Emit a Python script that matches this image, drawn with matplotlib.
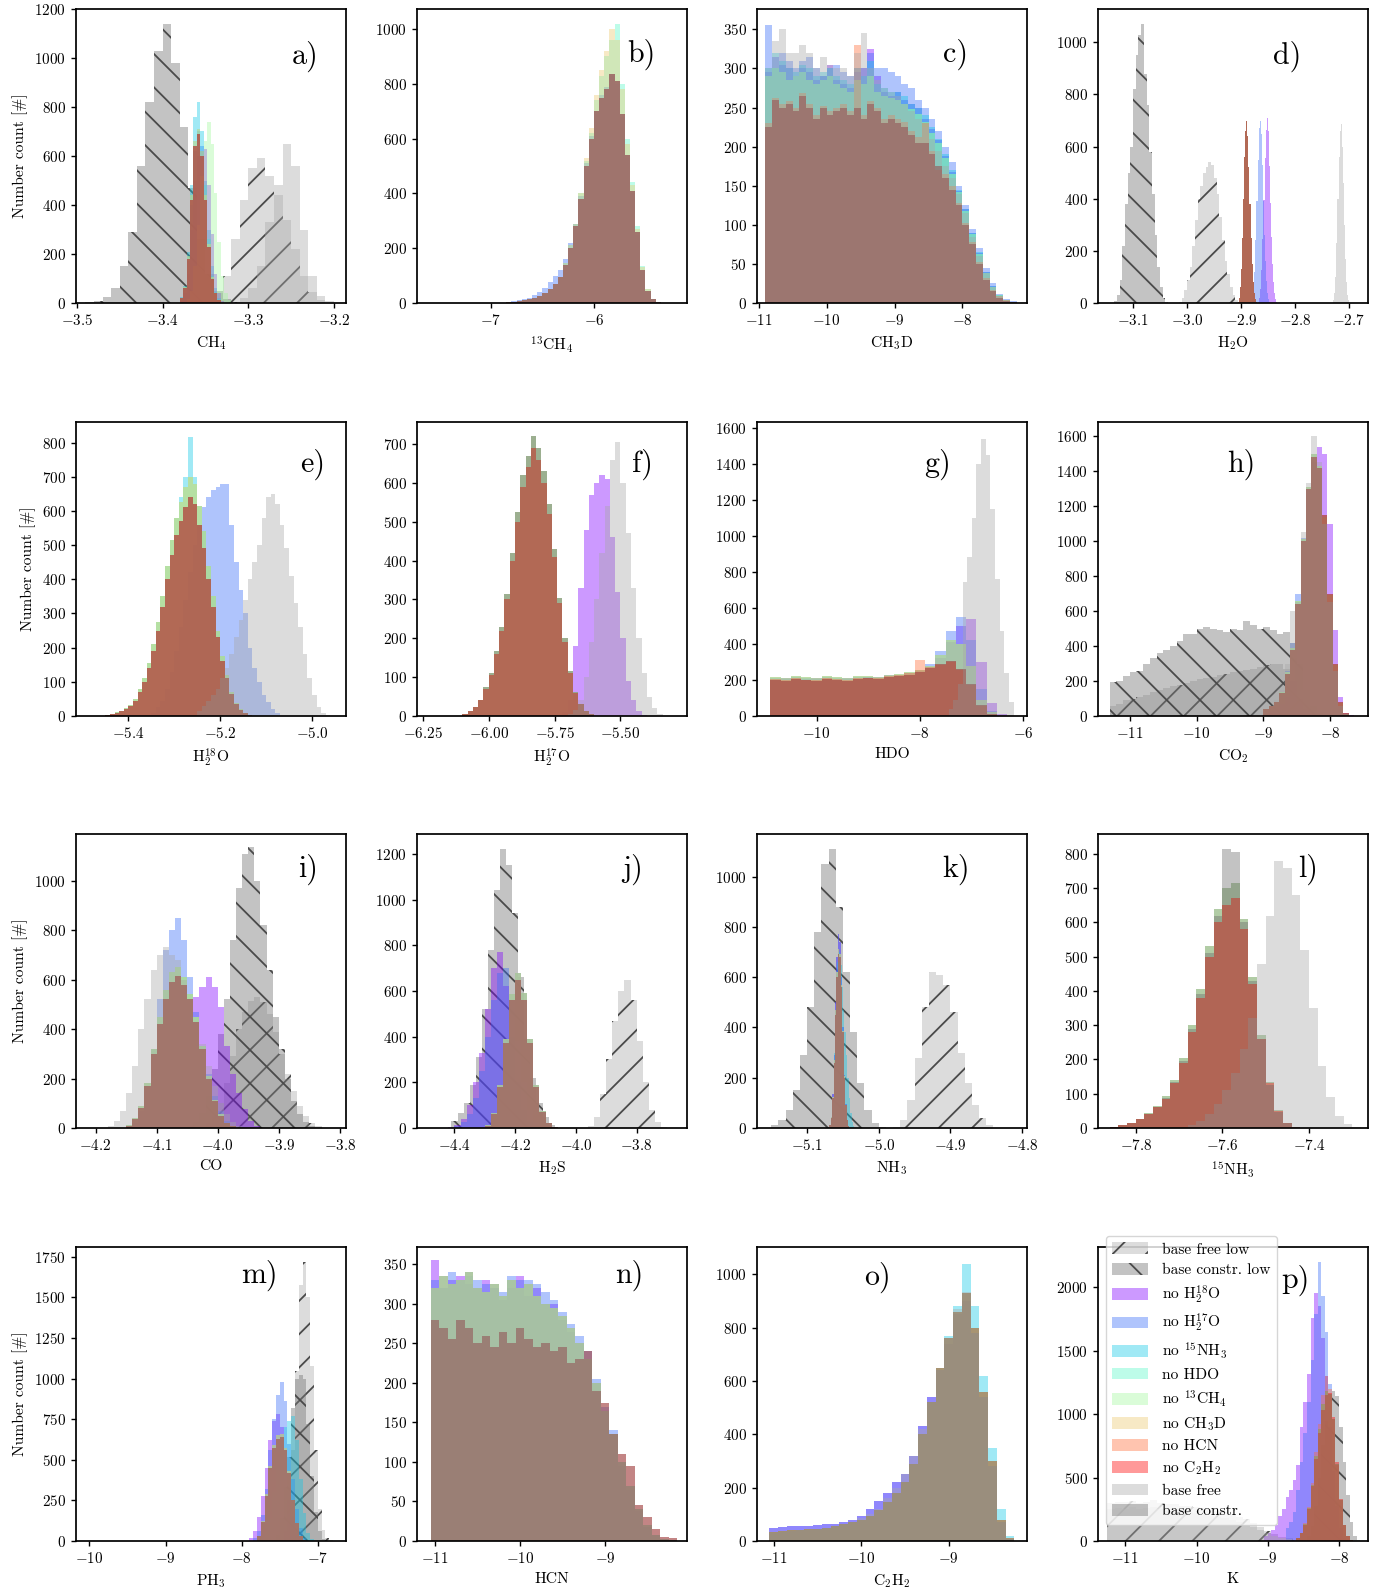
import numpy as np
import matplotlib
matplotlib.use("Agg")
import matplotlib.pyplot as plt
from matplotlib.patches import Patch

plt.rcParams.update({
    'font.family': 'serif',
    'font.serif': ['cmr10', 'DejaVu Serif'],
    'mathtext.fontset': 'cm',
    'axes.formatter.use_mathtext': True,
    'axes.unicode_minus': True,
    'hatch.linewidth': 1.3,
    'hatch.color': '#4a4a4a',
})

# ---------------- series labels / styles ----------------
LABELS = ['base free low', 'base constr. low', 'no H$_2^{18}$O', 'no H$_2^{17}$O',
          'no $^{15}$NH$_3$', 'no HDO', 'no $^{13}$CH$_4$', 'no CH$_3$D', 'no HCN',
          'no C$_2$H$_2$', 'base free', 'base constr.']
RAINBOW = plt.cm.rainbow(np.linspace(0, 1, 8))
COLORS = ['#a8a8a8', '#7a7a7a'] + [RAINBOW[i] for i in range(8)] + ['#a8a8a8', 'dimgray']
ALPHAS = [0.4, 0.45] + [0.4] * 10
HATCHES = ['/', '\\'] + [None] * 10
FL, CL, H18, H17, N15, HDO, C13, CH3D, HCN, C2H2, FREE, CONSTR = range(12)

# ---------------- data: (first bin edge, bin width, counts) ----------------
# a) CH4
A_FREE_LOW = (-3.35, 0.01, [10, 40, 110, 260, 420, 550, 590, 520, 440, 340, 220, 110, 45, 12])
A_CONSTR_LOW = (-3.49, 0.01, [5, 10, 25, 60, 150, 290, 560, 820, 1030, 1140, 980, 720, 470, 260, 120, 50, 15, 5])
A_FREE = (-3.31, 0.01, [20, 60, 150, 330, 480, 650, 560, 300, 110, 30, 8])
A_RED = (-3.380, 0.004, [20, 60, 180, 420, 640, 690, 600, 420, 230, 100, 40, 12])
A_CYAN = (-3.380, 0.004, [25, 70, 210, 480, 760, 820, 700, 480, 260, 110, 45, 15])
A_BLUE = (-3.380, 0.004, [20, 60, 170, 400, 620, 700, 640, 500, 300, 150, 60, 20])
A_PURPLE = (-3.380, 0.004, [10, 40, 120, 300, 500, 600, 620, 630, 480, 280, 120, 40, 10])
A_GREEN = (-3.372, 0.004, [15, 50, 150, 320, 520, 660, 740, 650, 450, 250, 110, 40, 12])
A_MID = (-3.380, 0.004, [20, 65, 190, 440, 660, 710, 620, 440, 240, 105, 40, 12])

# b) 13CH4
B_LOW = (-6.85, 0.05, [3, 5, 8, 10, 15, 20, 25, 35, 50, 70, 95, 140, 200, 280, 380, 500, 600, 700, 750, 780,
                       835, 810, 690, 540, 410, 260, 120, 45, 15, 4])
B_HIGH = (-6.85, 0.05, [3, 5, 8, 10, 15, 20, 25, 35, 50, 70, 95, 145, 210, 290, 400, 530, 640, 760, 850, 920,
                        1000, 960, 780, 580, 430, 270, 130, 50, 16, 4])
B_HDO = (-6.85, 0.05, [3, 5, 8, 10, 15, 20, 25, 35, 50, 70, 95, 145, 210, 290, 400, 520, 620, 740, 830, 900,
                       960, 1020, 800, 600, 440, 280, 135, 52, 16, 4])
B_BLUE = (-6.85, 0.05, [4, 6, 10, 14, 20, 30, 40, 55, 75, 100, 120, 160, 220, 290, 390, 510, 610, 700, 760, 790,
                        830, 800, 680, 530, 400, 250, 115, 42, 14, 4])

# c) CH3D
C_HI = (-10.9, 0.1, [300, 320, 310, 300, 295, 305, 300, 290, 295, 300, 290, 285, 280, 300, 290, 310, 280, 275, 270,
                     270, 265, 255, 250, 240, 225, 210, 190, 170, 145, 120, 90, 65, 40, 22, 10, 4, 1])
C_MID = (-10.9, 0.1, [290, 300, 295, 285, 290, 295, 285, 280, 285, 290, 280, 275, 270, 285, 280, 290, 270, 265, 262,
                      260, 255, 248, 242, 232, 218, 204, 185, 165, 142, 118, 88, 63, 39, 21, 10, 4, 1])
C_PURPLE = (-10.9, 0.1, [295, 315, 305, 300, 290, 300, 295, 285, 290, 305, 285, 280, 275, 295, 300, 325, 290, 270, 265,
                         270, 260, 255, 250, 235, 222, 208, 188, 168, 143, 120, 90, 64, 40, 22, 10, 4, 1])
C_LO = (-10.9, 0.1, [225, 260, 250, 255, 245, 265, 250, 235, 250, 240, 245, 250, 240, 250, 235, 255, 245, 230, 235,
                     230, 225, 215, 205, 205, 190, 175, 160, 145, 125, 100, 75, 50, 30, 15, 7, 3, 1])
C_CORAL = (-10.9, 0.1, [230, 262, 255, 258, 250, 268, 255, 240, 252, 245, 250, 255, 245, 330, 240, 258, 250, 235, 240,
                        235, 232, 220, 212, 230, 195, 170, 165, 150, 128, 102, 78, 52, 32, 17, 9, 4, 1])
C_BLUE = (-10.9, 0.1, [355, 300, 320, 310, 300, 310, 315, 300, 290, 300, 305, 295, 290, 300, 300, 320, 300, 300, 295,
                       290, 280, 275, 260, 250, 235, 220, 200, 180, 150, 125, 95, 70, 45, 25, 12, 5, 2])
C_GRAY = (-10.9, 0.1, [300, 335, 350, 320, 320, 330, 320, 300, 315, 305, 300, 300, 290, 320, 345, 300, 285, 275, 270,
                       265, 255, 245, 235, 225, 210, 195, 175, 160, 140, 115, 85, 60, 38, 20, 9, 3, 1])

# d) H2O
D_CONSTR_LOW = (-3.135, 0.005, [8, 30, 90, 220, 380, 500, 600, 820, 950, 1030, 1070, 880, 760, 580, 420, 260, 140, 60, 20, 5])
D_FREE_LOW = (-3.015, 0.005, [5, 20, 50, 90, 140, 220, 320, 400, 450, 500, 520, 540, 530, 480, 420, 330, 240, 160,
                              110, 60, 30, 10, 3])
D_RED = (-2.906, 0.002, [5, 20, 60, 130, 250, 400, 560, 660, 700, 640, 520, 380, 250, 150, 80, 40, 15, 5])
D_BLUE = (-2.881, 0.002, [5, 15, 50, 120, 240, 390, 550, 670, 700, 650, 530, 390, 260, 160, 85, 40, 15, 5])
D_PURPLE = (-2.868, 0.002, [5, 18, 55, 125, 245, 395, 555, 665, 710, 660, 525, 385, 255, 150, 80, 40, 15, 5])
D_FREE = (-2.7286, 0.002, [10, 40, 100, 230, 400, 560, 660, 685, 600, 460, 300, 170, 80, 30, 10])

# e) H2 18O
E_RED = (-5.45, 0.01, [3, 6, 10, 15, 20, 30, 45, 70, 100, 140, 190, 250, 320, 400, 470, 530, 570, 610, 640, 620, 560,
                       490, 400, 320, 230, 160, 110, 65, 35, 18, 8, 3])
E_HI = (-5.45, 0.01, [3, 6, 11, 16, 22, 33, 50, 78, 110, 155, 210, 275, 350, 440, 515, 580, 625, 670, 700, 680, 615,
                      540, 440, 350, 250, 175, 120, 70, 38, 20, 9, 3])
E_CYAN = (-5.45, 0.01, [3, 6, 11, 16, 22, 33, 50, 78, 110, 155, 210, 275, 350, 440, 515, 580, 640, 700, 815, 700, 615,
                        540, 440, 350, 250, 175, 120, 70, 38, 20, 9, 3])
E_BLUE = (-5.35, 0.01, [10, 25, 45, 80, 130, 190, 260, 340, 420, 500, 560, 610, 640, 660, 670, 680, 680, 560, 450, 370,
                        300, 200, 140, 100, 60, 40, 20, 8])
E_FREE = (-5.25, 0.01, [15, 30, 45, 60, 80, 110, 140, 180, 230, 280, 340, 400, 450, 500, 580, 640, 650, 620, 560, 490,
                        410, 330, 260, 180, 110, 60, 25, 10, 3])

# f) H2 17O
F_RED = (-6.10, 0.02, [5, 12, 22, 40, 70, 105, 160, 220, 300, 400, 500, 590, 640, 690, 660, 600, 520, 410, 290, 190,
                       110, 60, 30, 12, 4])
F_HI = (-6.10, 0.02, [5, 12, 23, 42, 74, 110, 168, 230, 315, 420, 525, 620, 670, 720, 690, 630, 545, 430, 305, 200,
                      115, 62, 31, 12, 4])
F_PURPLE = (-5.72, 0.02, [10, 40, 180, 330, 480, 570, 600, 620, 610, 460, 320, 200, 90, 40, 12, 3])
F_FREE = (-5.70, 0.02, [5, 15, 40, 100, 190, 300, 420, 540, 660, 705, 600, 470, 330, 200, 110, 50, 20, 6])

# g) HDO
G_RED = (-10.9, 0.2, [200, 195, 205, 200, 195, 205, 200, 195, 205, 210, 205, 215, 220, 230, 245, 265, 290, 305, 260,
                      180, 60, 12, 0])
G_CORAL = (-10.9, 0.2, [205, 200, 210, 200, 200, 210, 205, 200, 210, 210, 210, 220, 225, 240, 310, 270, 285, 300, 255,
                        170, 55, 10, 0])
G_BLUE = (-10.9, 0.2, [210, 205, 215, 210, 205, 215, 210, 205, 215, 215, 210, 220, 225, 240, 255, 290, 360, 470, 550,
                       420, 150, 30, 0])
G_PURPLE = (-10.9, 0.2, [205, 210, 210, 205, 210, 210, 205, 210, 210, 215, 215, 225, 230, 240, 250, 270, 320, 410, 500,
                         540, 300, 70, 10])
G_MID = (-10.9, 0.2, [215, 210, 220, 215, 210, 220, 215, 210, 220, 220, 215, 225, 235, 245, 255, 280, 340, 420, 400,
                      280, 90, 20, 0])
G_FREE = (-7.44, 0.09, [40, 90, 180, 745, 880, 1100, 1400, 1540, 1450, 1150, 760, 470, 240, 80])

# h) CO2
H_CONSTR_LOW = (-11.3, 0.1, [195, 200, 230, 250, 260, 300, 330, 360, 380, 400, 430, 470, 470, 500, 510, 500, 490, 480,
                             500, 490, 545, 520, 500, 510, 490, 470, 480, 420, 300, 150, 60, 20])
H_FREE_LOW = (-11.3, 0.1, [60, 70, 90, 100, 110, 120, 140, 150, 160, 170, 180, 190, 200, 210, 215, 225, 235, 240, 250,
                           255, 265, 270, 280, 290, 300, 295, 270, 200, 100, 40, 10])
H_RED = (-9.0, 0.08, [40, 60, 80, 130, 240, 380, 640, 1000, 1300, 1480, 1420, 1150, 700, 300, 80, 15])
H_BLUE = (-9.0, 0.08, [40, 60, 80, 140, 260, 420, 700, 1020, 1300, 1450, 1380, 1100, 650, 260, 60, 10])
H_PURPLE = (-8.92, 0.08, [30, 50, 70, 110, 200, 330, 560, 900, 1250, 1540, 1500, 1100, 490, 110, 20, 3])
H_MID = (-9.0, 0.08, [40, 60, 80, 135, 250, 390, 660, 1010, 1310, 1500, 1430, 1140, 690, 290, 75, 12])
H_GRAY = (-9.0, 0.08, [40, 60, 90, 150, 300, 600, 650, 1050, 1330, 1600, 1450, 1100, 650, 260, 60, 10])

# i) CO
I_CONSTR_LOW = (-4.05, 0.01, [10, 25, 60, 130, 240, 380, 520, 760, 970, 1110, 1135, 1000, 820, 640, 450, 320, 200, 110,
                              55, 25, 10, 4])
I_FREE_LOW = (-4.02, 0.01, [20, 50, 100, 180, 290, 400, 470, 515, 530, 510, 460, 390, 300, 220, 150, 90, 50, 20, 8])
I_FREE = (-4.18, 0.01, [8, 30, 70, 140, 250, 400, 520, 640, 700, 730, 700, 680, 600, 520, 430, 340, 250, 170, 100, 55,
                        25, 10])
I_PURPLE = (-4.12, 0.01, [10, 40, 100, 200, 320, 420, 470, 500, 530, 570, 610, 570, 490, 330, 220, 140, 75, 30, 10])
I_BLUE = (-4.14, 0.01, [20, 70, 170, 320, 520, 720, 800, 850, 760, 610, 470, 330, 220, 130, 70, 30, 10])
I_RED = (-4.15, 0.01, [10, 35, 80, 170, 300, 420, 520, 590, 615, 580, 520, 430, 320, 200, 110, 50, 20, 8])
I_MID = (-4.15, 0.01, [12, 40, 90, 180, 320, 450, 560, 630, 650, 610, 540, 450, 330, 210, 115, 55, 22, 8])

# j) H2S
J_CONSTR_LOW = (-4.41, 0.02, [30, 65, 110, 190, 310, 520, 780, 1040, 1220, 1150, 940, 660, 390, 220, 110, 50, 15])
J_FREE_LOW = (-3.96, 0.02, [10, 50, 150, 300, 470, 600, 650, 560, 380, 200, 80, 25, 6])
J_PURPLE = (-4.42, 0.02, [5, 15, 40, 100, 200, 330, 520, 700, 770, 620, 400, 200, 80, 25, 8])
J_BLUE = (-4.40, 0.02, [10, 25, 60, 130, 250, 400, 560, 680, 700, 560, 380, 200, 80, 25, 6])
J_RED = (-4.30, 0.02, [10, 60, 180, 370, 560, 650, 560, 370, 180, 70, 20, 5])
J_MID = (-4.30, 0.02, [12, 65, 190, 390, 585, 680, 590, 390, 190, 75, 22, 5])

# k) NH3
K_CONSTR_LOW = (-5.15, 0.01, [10, 30, 70, 150, 290, 480, 780, 1050, 1110, 880, 620, 380, 180, 70, 20, 5])
K_FREE_LOW = (-4.98, 0.01, [5, 30, 110, 280, 480, 620, 610, 570, 460, 300, 180, 90, 40, 12])
K_RED = (-5.069, 0.002, [10, 40, 120, 260, 450, 600, 690, 680, 560, 380, 200, 90, 30, 8])
K_PURPLE = (-5.069, 0.002, [12, 45, 135, 290, 500, 680, 770, 740, 600, 400, 210, 95, 32, 8])
K_CYAN = (-5.066, 0.002, [20, 100, 300, 500, 660, 700, 650, 560, 470, 380, 290, 200, 120, 60, 25, 8])
K_MID = (-5.069, 0.002, [10, 42, 125, 270, 470, 620, 710, 690, 570, 385, 205, 92, 30, 8])

# l) 15NH3
L_RED = (-7.86, 0.02, [3, 8, 15, 25, 40, 60, 85, 130, 190, 280, 380, 500, 600, 650, 670, 580, 420, 260, 130, 50, 15, 4])
L_HI = (-7.86, 0.02, [3, 8, 16, 27, 44, 65, 92, 140, 205, 300, 405, 530, 640, 700, 715, 610, 440, 270, 135, 52, 15, 4])
L_CONSTR = (-7.86, 0.02, [3, 8, 15, 25, 42, 62, 88, 135, 195, 290, 390, 510, 620, 815, 805, 600, 430, 260, 125, 48,
                          14, 4])
L_FREE = (-7.68, 0.02, [10, 20, 40, 70, 110, 160, 230, 320, 480, 620, 780, 760, 680, 520, 350, 180, 90, 35, 12, 4])

# m) PH3
M_FREE_LOW = (-7.45, 0.05, [60, 250, 560, 1050, 1580, 1720, 1500, 1080, 560, 200, 70, 20, 5])
M_CONSTR_LOW = (-7.55, 0.05, [40, 140, 330, 520, 820, 1000, 1020, 1000, 720, 400, 180, 60, 15])
M_CYAN = (-7.75, 0.05, [20, 60, 140, 300, 500, 640, 700, 740, 770, 620, 380, 170, 50, 10])
M_BLUE = (-7.85, 0.05, [20, 60, 160, 320, 560, 750, 900, 980, 860, 600, 380, 200, 80, 20])
M_PURPLE = (-7.9, 0.05, [20, 60, 150, 280, 450, 620, 740, 780, 700, 520, 320, 150, 50, 12])
M_RED = (-7.8, 0.05, [30, 120, 280, 450, 570, 630, 640, 560, 420, 250, 110, 30, 8])
M_MID = (-7.8, 0.05, [32, 125, 290, 465, 590, 650, 660, 575, 430, 255, 112, 30, 8])

# n) HCN
N_HI = (-11.05, 0.1, [320, 335, 325, 330, 340, 320, 315, 325, 310, 330, 320, 325, 310, 300, 295, 285, 270, 250, 230,
                      200, 165, 135, 100, 70, 40, 20, 8, 3, 1])
N_RED = (-11.05, 0.1, [280, 270, 255, 280, 270, 250, 260, 245, 265, 250, 270, 255, 245, 250, 240, 245, 225, 230, 240,
                       190, 175, 135, 110, 95, 45, 30, 15, 5, 4])
N_BLUE = (-11.05, 0.1, [330, 320, 340, 330, 335, 330, 325, 320, 315, 335, 330, 330, 325, 315, 305, 290, 275, 260, 240,
                        205, 170, 140, 100, 70, 40, 18, 7, 2, 1])
N_PURPLE = (-11.05, 0.1, [355, 320, 330, 335, 325, 320, 330, 320, 305, 320, 335, 310, 320, 300, 300, 280, 265, 250, 230,
                          200, 165, 135, 95, 65, 38, 18, 7, 2, 1])

# o) C2H2
O_MAIN = (-11.05, 0.1, [35, 38, 40, 42, 44, 46, 50, 55, 62, 70, 80, 95, 115, 145, 180, 220, 290, 400, 520, 650, 760,
                        860, 930, 800, 560, 300, 80, 10])
O_CYAN = (-11.05, 0.1, [35, 38, 40, 42, 44, 46, 50, 55, 62, 70, 80, 95, 115, 145, 180, 220, 290, 400, 520, 650, 770,
                        880, 1040, 880, 620, 350, 120, 20])
O_BLUE = (-11.05, 0.1, [50, 52, 55, 55, 58, 60, 62, 65, 70, 80, 95, 120, 150, 180, 220, 250, 320, 430, 540, 640, 740,
                        850, 900, 780, 540, 280, 70, 8])
O_GRAY = (-11.05, 0.1, [30, 35, 38, 40, 42, 45, 48, 55, 62, 70, 85, 100, 120, 160, 200, 250, 320, 420, 520, 640, 760,
                        870, 935, 780, 540, 280, 70, 8])

# p) K
P_FREE_LOW = (-11.25, 0.1, [300, 310, 305, 315, 300, 310, 320, 300, 290, 295, 280, 275, 270, 260, 250, 240, 225, 210,
                            190, 170, 140, 110, 80, 55, 35, 20, 10, 5])
P_FREE = (-11.25, 0.1, [250, 260, 255, 265, 250, 260, 270, 250, 240, 245, 230, 225, 220, 210, 200, 190, 180, 165, 150,
                        130, 110, 85, 60, 40, 25, 12, 5, 2])
P_CONSTR_LOW = (-8.45, 0.05, [40, 120, 280, 500, 760, 950, 1100, 1180, 1140, 900, 620, 360, 150, 40, 8])
P_BLUE = (-8.75, 0.05, [100, 150, 230, 400, 620, 850, 1100, 1430, 1790, 2200, 1930, 1650, 1240, 820, 460, 220, 65, 10])
P_PURPLE = (-9.05, 0.05, [40, 60, 90, 130, 200, 250, 350, 400, 480, 600, 900, 1100, 1320, 1760, 1960, 1850, 1600, 1300,
                          900, 550, 280, 100, 25])
P_RED = (-8.6, 0.05, [20, 60, 130, 250, 430, 650, 850, 1030, 1150, 1170, 980, 620, 330, 130, 40, 8])
P_CORAL = (-8.6, 0.05, [20, 65, 140, 270, 460, 700, 920, 1150, 1300, 1200, 960, 600, 320, 125, 38, 8])
P_MID = (-8.6, 0.05, [22, 65, 135, 260, 440, 670, 880, 1080, 1180, 1160, 960, 610, 320, 125, 38, 8])

# ---------------- panel definitions ----------------
PANELS = [
    ('a)', 'CH$_4$', (-3.501, -3.186), 1200, [-3.5, -3.4, -3.3, -3.2], np.arange(0, 1201, 200), (0.85, 0.84),
     [(FL, A_FREE_LOW), (CL, A_CONSTR_LOW), (H18, A_PURPLE), (H17, A_BLUE), (N15, A_CYAN), (HDO, A_MID),
      (C13, A_GREEN), (CH3D, A_MID), (HCN, A_RED), (C2H2, A_RED), (FREE, A_FREE), (CONSTR, A_RED)]),
    ('b)', '$^{13}$CH$_4$', (-7.716, -5.097), 1073, [-7, -6], np.arange(0, 1001, 200), (0.83, 0.845),
     [(H18, B_LOW), (H17, B_BLUE), (N15, B_LOW), (HDO, B_HDO), (CH3D, B_HIGH), (HCN, B_LOW), (C2H2, B_LOW),
      (FREE, B_LOW), (CONSTR, B_LOW)]),
    ('c)', 'CH$_3$D', (-11.025, -7.05), 376, [-11, -10, -9, -8], np.arange(0, 351, 50), (0.735, 0.845),
     [(H18, C_PURPLE), (H17, C_BLUE), (N15, C_HI), (HDO, C_MID), (C13, C_MID), (HCN, C_CORAL), (C2H2, C_LO),
      (FREE, C_GRAY), (CONSTR, C_LO)]),
    ('d)', 'H$_2$O', (-3.165, -2.664), 1128, [-3.1, -3.0, -2.9, -2.8, -2.7], np.arange(0, 1001, 200), (0.70, 0.84),
     [(FL, D_FREE_LOW), (CL, D_CONSTR_LOW), (H18, D_PURPLE), (H17, D_BLUE), (N15, D_RED), (HDO, D_RED),
      (C13, D_RED), (CH3D, D_RED), (HCN, D_RED), (C2H2, D_RED), (FREE, D_FREE), (CONSTR, D_RED)]),
    ('e)', 'H$_2^{18}$O', (-5.514, -4.926), 860, [-5.4, -5.2, -5.0], np.arange(0, 801, 100), (0.875, 0.855),
     [(H17, E_BLUE), (N15, E_CYAN), (HDO, E_HI), (C13, E_HI), (CH3D, E_HI), (HCN, E_RED), (C2H2, E_RED),
      (FREE, E_FREE), (CONSTR, E_RED)]),
    ('f)', 'H$_2^{17}$O', (-6.272, -5.2475), 757, [-6.25, -6.0, -5.75, -5.5], np.arange(0, 701, 100), (0.835, 0.855),
     [(H18, F_PURPLE), (N15, F_HI), (HDO, F_RED), (C13, F_HI), (CH3D, F_HI), (HCN, F_RED), (C2H2, F_RED),
      (FREE, F_FREE), (CONSTR, F_HI)]),
    ('g)', 'HDO', (-11.157, -5.92), 1632, [-10, -8, -6], np.arange(0, 1601, 200), (0.67, 0.855),
     [(H18, G_PURPLE), (H17, G_BLUE), (N15, G_MID), (C13, G_MID), (CH3D, G_MID), (HCN, G_CORAL),
      (C2H2, G_RED), (FREE, G_FREE), (CONSTR, G_RED)]),
    ('h)', 'CO$_2$', (-11.477, -7.43), 1680, [-11, -10, -9, -8], np.arange(0, 1601, 200), (0.53, 0.855),
     [(FL, H_FREE_LOW), (CL, H_CONSTR_LOW), (H18, H_PURPLE), (H17, H_BLUE), (N15, H_MID), (HDO, H_MID),
      (C13, H_MID), (CH3D, H_MID), (HCN, H_RED), (C2H2, H_RED), (FREE, H_GRAY), (CONSTR, H_RED)]),
    ('i)', 'CO', (-4.232, -3.79), 1189, [-4.2, -4.1, -4.0, -3.9, -3.8], np.arange(0, 1001, 200), (0.86, 0.88),
     [(FL, I_FREE_LOW), (CL, I_CONSTR_LOW), (H18, I_PURPLE), (H17, I_BLUE), (N15, I_MID), (HDO, I_MID),
      (C13, I_MID), (CH3D, I_MID), (HCN, I_RED), (C2H2, I_RED), (FREE, I_FREE), (CONSTR, I_RED)]),
    ('j)', 'H$_2$S', (-4.5235, -3.634), 1287, [-4.4, -4.2, -4.0, -3.8], np.arange(0, 1201, 200), (0.80, 0.88),
     [(FL, J_FREE_LOW), (CL, J_CONSTR_LOW), (H18, J_PURPLE), (H17, J_BLUE), (N15, J_MID), (HDO, J_MID),
      (C13, J_MID), (CH3D, J_MID), (HCN, J_RED), (C2H2, J_RED), (FREE, J_MID), (CONSTR, J_RED)]),
    ('k)', 'NH$_3$', (-5.17, -4.793), 1169, [-5.1, -5.0, -4.9, -4.8], np.arange(0, 1001, 200), (0.737, 0.88),
     [(FL, K_FREE_LOW), (CL, K_CONSTR_LOW), (H18, K_PURPLE), (H17, K_PURPLE), (N15, K_CYAN), (HDO, K_MID),
      (C13, K_MID), (CH3D, K_MID), (HCN, K_RED), (C2H2, K_RED), (FREE, K_MID), (CONSTR, K_RED)]),
    ('l)', '$^{15}$NH$_3$', (-7.887, -7.264), 858, [-7.8, -7.6, -7.4], np.arange(0, 801, 100), (0.778, 0.88),
     [(H18, L_HI), (H17, L_HI), (HDO, L_HI), (C13, L_HI), (CH3D, L_HI), (HCN, L_RED), (C2H2, L_RED),
      (FREE, L_FREE), (CONSTR, L_CONSTR)]),
    ('m)', 'PH$_3$', (-10.176, -6.63), 1811, [-10, -9, -8, -7], np.arange(0, 1751, 250), (0.678, 0.905),
     [(FL, M_FREE_LOW), (CL, M_CONSTR_LOW), (H18, M_PURPLE), (H17, M_BLUE), (N15, M_CYAN), (HDO, M_MID),
      (C13, M_MID), (CH3D, M_MID), (HCN, M_RED), (C2H2, M_RED), (FREE, M_MID), (CONSTR, M_RED)]),
    ('n)', 'HCN', (-11.21, -8.034), 372, [-11, -10, -9], np.arange(0, 351, 50), (0.786, 0.905),
     [(H18, N_PURPLE), (H17, N_BLUE), (N15, N_HI), (HDO, N_HI), (C13, N_HI), (CH3D, N_HI), (C2H2, N_RED),
      (FREE, N_HI), (CONSTR, N_RED)]),
    ('o)', 'C$_2$H$_2$', (-11.19, -8.105), 1102, [-11, -10, -9], np.arange(0, 1001, 200), (0.445, 0.895),
     [(H18, O_BLUE), (H17, O_BLUE), (N15, O_CYAN), (HDO, O_MAIN), (C13, O_MAIN), (CH3D, O_MAIN), (HCN, O_MAIN),
      (FREE, O_GRAY), (CONSTR, O_MAIN)]),
    ('p)', 'K', (-11.383, -7.593), 2319, [-11, -10, -9, -8], np.arange(0, 2001, 500), (0.73, 0.888),
     [(FL, P_FREE_LOW), (CL, P_CONSTR_LOW), (H18, P_PURPLE), (H17, P_BLUE), (N15, P_MID), (HDO, P_MID),
      (C13, P_MID), (CH3D, P_MID), (HCN, P_CORAL), (C2H2, P_RED), (FREE, P_FREE), (CONSTR, P_MID)]),
]

# ---------------- figure ----------------
W, H, DPI = 1391, 1593, 100
fig = plt.figure(figsize=(W / DPI, H / DPI), dpi=DPI)
COL_LEFT = [76, 417, 757, 1098]
ROW_TOP = [9, 422, 834, 1247]
AX_W, AX_H = 270, 294


def draw(ax, si, data):
    start, width, counts = data
    counts = np.asarray(counts, dtype=float)
    edges = start + width * np.arange(len(counts) + 1)
    ax.hist(edges[:-1] + width / 2, bins=edges, weights=counts, color=COLORS[si], alpha=ALPHAS[si],
            hatch=HATCHES[si], label=LABELS[si])


for k, (letter, xlab, xlim, ytop, xt, yt, lpos, series) in enumerate(PANELS):
    r, c = divmod(k, 4)
    ax = fig.add_axes([COL_LEFT[c] / W, 1 - (ROW_TOP[r] + AX_H) / H, AX_W / W, AX_H / H])
    for si, data in sorted(series, key=lambda t: t[0]):
        draw(ax, si, data)
    ax.set_xlim(*xlim)
    ax.set_ylim(0, ytop)
    ax.set_xticks(xt)
    ax.set_yticks(yt)
    if letter == 'f)':
        ax.set_xticklabels(['$-6.25$', '$-6.00$', '$-5.75$', '$-5.50$'])
    ax.tick_params(length=3.8, width=1.0, pad=3.4, labelsize=10.9)
    ax.set_xlabel(xlab, fontsize=11.2, labelpad=4.5)
    if c == 0:
        ax.set_ylabel('Number count [#]', fontsize=11.2, labelpad=4.5)
    ax.text(lpos[0], lpos[1], letter, transform=ax.transAxes, fontsize=21.6,
            ha='center', va='center')
    for sp in ax.spines.values():
        sp.set_linewidth(1.25)
    if letter == 'p)':
        handles = [Patch(facecolor=COLORS[i], alpha=ALPHAS[i], hatch=HATCHES[i], label=LABELS[i])
                   for i in range(12)]
        leg = ax.legend(handles=handles, loc='upper left', bbox_to_anchor=(0.03, 1.037),
                        borderaxespad=0, fontsize=11.2, handlelength=2.3, handleheight=0.8,
                        handletextpad=0.9, labelspacing=0.4, framealpha=0.8, borderpad=0.4)
        leg.set_zorder(10)

fig.savefig('out.png', dpi=DPI)
